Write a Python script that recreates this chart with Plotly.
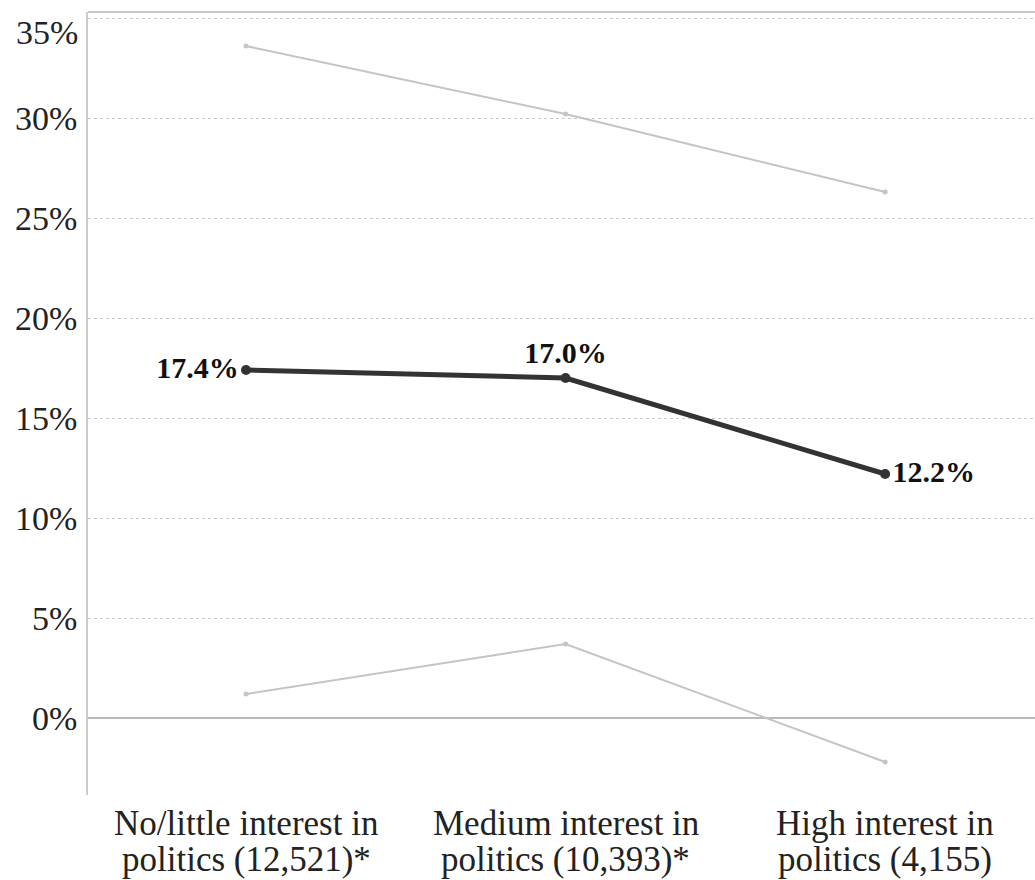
import plotly.graph_objects as go

categories = ["No/little interest in<br>politics (12,521)*",
              "Medium interest in<br>politics (10,393)*",
              "High interest in<br>politics (4,155)"]
estimate = [17.4, 17.0, 12.2]
upper = [33.6, 30.2, 26.3]
lower = [1.2, 3.7, -2.2]
labels = ["17.4%", "17.0%", "12.2%"]
label_pos = ["middle left", "top center", "middle right"]
yticks = [0, 5, 10, 15, 20, 25, 30, 35]
ytick_text = [f"{v}%" for v in yticks]

xpos = list(range(len(categories)))
serif = "Liberation Serif, Times New Roman, serif"

fig = go.Figure()
for band in (upper, lower):
    fig.add_trace(go.Scatter(
        x=xpos, y=band, mode="lines+markers",
        line=dict(color="#c4c4c4", width=2),
        marker=dict(color="#c4c4c4", size=5),
        showlegend=False, hoverinfo="skip"))

fig.add_trace(go.Scatter(
    x=xpos, y=estimate, mode="lines+markers+text",
    line=dict(color="#333333", width=5),
    marker=dict(color="#333333", size=10),
    text=labels, textposition=label_pos,
    textfont=dict(family=serif, size=30, color="#111111", weight="bold"),
    showlegend=False, cliponaxis=False))

annotations = []
for xi, cat in zip(xpos, categories):
    for li, line in enumerate(cat.split("<br>")):
        annotations.append(dict(
            x=xi, xref="x", y=0, yref="paper", yanchor="middle", xanchor="center",
            yshift=-28 - 36 * li, text=line, showarrow=False,
            font=dict(family=serif, size=35, color="#222222")))

# top tick label sits clipped below its gridline in the reference
annotations.append(dict(
    x=0, xref="paper", xanchor="right", xshift=-8,
    y=yticks[-1], yref="y", yanchor="middle", yshift=-14,
    text=ytick_text[-1], showarrow=False,
    font=dict(family=serif, size=34, color="#222222")))

fig.update_layout(
    width=1035, height=880,
    margin=dict(l=88, r=0, t=12, b=85),
    paper_bgcolor="white", plot_bgcolor="white",
    font=dict(family=serif, color="#222222"),
    xaxis=dict(range=[-0.4945, 2.469], tickvals=xpos, showticklabels=False,
               showgrid=False, zeroline=False, showline=False, ticks=""),
    yaxis=dict(range=[-3.85, 35.3], tickvals=yticks, ticktext=ytick_text[:-1] + [""],
               showgrid=True, gridcolor="#c8c8c8", griddash="dot", gridwidth=1,
               zeroline=True, zerolinecolor="#b8b8b8", zerolinewidth=2,
               showline=True, linecolor="#cccccc", linewidth=1.5,
               tickfont=dict(size=34, family=serif, color="#222222"), ticks="",
               ticklabelstandoff=2),
    annotations=annotations,
    shapes=[dict(type="line", xref="paper", yref="paper", x0=0, x1=1, y0=1, y1=1,
                 line=dict(color="#c8c8c8", width=2))],
)

fig.write_html("out.html")
